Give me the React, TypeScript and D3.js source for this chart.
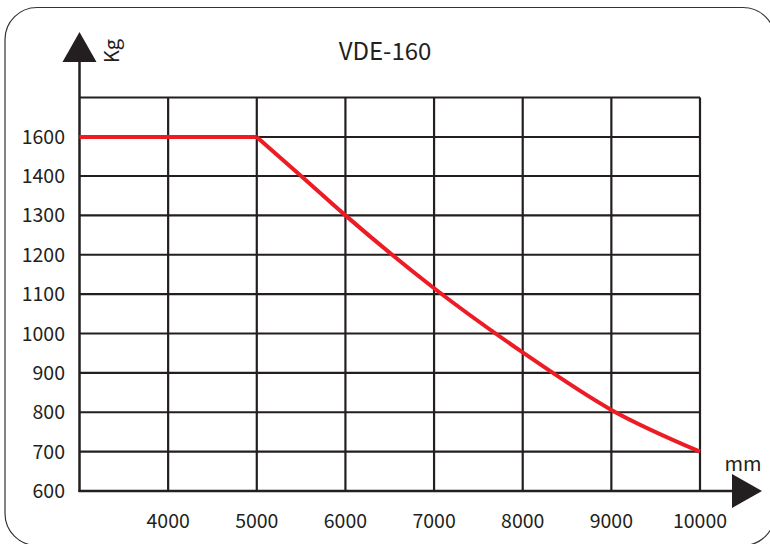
import { useEffect, useRef } from 'react';
import * as d3 from 'd3';

// load curve of VDE-160: mm -> Kg
const title = 'VDE-160';
const xTicks = [4000, 5000, 6000, 7000, 8000, 9000, 10000];
const yTicks = [600, 700, 800, 900, 1000, 1100, 1200, 1300, 1400, 1600];
const flatMm = [3000, 5000];
const flatKg = [1600, 1600];
const curveMm = [5000, 5500, 6000, 7000, 8000, 9000, 10000];
const curveKg = [1600, 1400, 1300, 1115, 952, 806, 700];

const W = 770;
const H = 544;

export default function App() {
  const ref = useRef<SVGSVGElement>(null);

  useEffect(() => {
    if (!ref.current) return;
    const svg = d3.select(ref.current);
    svg.selectAll('*').remove();

    const font = '"Noto Sans CJK SC", "Noto Sans", sans-serif';
    const ink = '#231f20';

    const x = d3.scaleLinear().domain([3000, 10000]).range([79.5, 700]);
    // rows are evenly spaced although 1500 is skipped
    const y = d3.scaleLinear().domain([600, 1400, 1600, 1700]).range([491, 176, 137, 97.5]);

    // rounded frame
    svg.append('rect')
      .attr('x', 5).attr('y', 7.5).attr('width', 770).attr('height', 538)
      .attr('rx', 32).attr('fill', 'none').attr('stroke', '#333').attr('stroke-width', 1.2);

    svg.append('text')
      .attr('x', 385).attr('y', 60).attr('text-anchor', 'middle')
      .attr('font-family', font).attr('font-size', 24).attr('fill', ink).text(title);

    const g = svg.append('g');

    // grid
    g.selectAll('line.h')
      .data([...yTicks.slice(1), 1700])
      .enter().append('line')
      .attr('x1', x(3000)).attr('x2', x(10000))
      .attr('y1', (d) => y(d)).attr('y2', (d) => y(d))
      .attr('stroke', ink).attr('stroke-width', 2.2);
    g.selectAll('line.v')
      .data(xTicks)
      .enter().append('line')
      .attr('x1', (d) => x(d)).attr('x2', (d) => x(d))
      .attr('y1', y(1700)).attr('y2', y(600))
      .attr('stroke', ink).attr('stroke-width', 2.2);

    // axes with arrow heads
    g.append('line').attr('x1', x(3000)).attr('x2', x(3000)).attr('y1', 60).attr('y2', y(600) + 1)
      .attr('stroke', ink).attr('stroke-width', 2.5);
    g.append('line').attr('x1', x(3000) - 1).attr('x2', 735).attr('y1', y(600)).attr('y2', y(600))
      .attr('stroke', ink).attr('stroke-width', 2.5);
    g.append('path').attr('d', `M${x(3000)},32 L${x(3000) - 17},62 L${x(3000) + 17},62 Z`).attr('fill', ink);
    g.append('path').attr('d', `M762,${y(600)} L732,${y(600) - 17} L732,${y(600) + 17} Z`).attr('fill', ink);

    svg.append('text')
      .attr('transform', `translate(119,51) rotate(-90)`)
      .attr('text-anchor', 'middle')
      .attr('font-family', font).attr('font-size', 20).attr('fill', ink).text('Kg');
    svg.append('text')
      .attr('x', 743).attr('y', 471).attr('text-anchor', 'middle')
      .attr('font-family', font).attr('font-size', 20).attr('fill', ink).text('mm');

    // tick labels
    g.selectAll('text.y')
      .data(yTicks)
      .enter().append('text')
      .attr('x', 65).attr('y', (d) => y(d) + 7)
      .attr('text-anchor', 'end')
      .attr('font-family', font).attr('font-size', 19.5).attr('fill', ink)
      .text((d) => d);
    g.selectAll('text.x')
      .data(xTicks)
      .enter().append('text')
      .attr('x', (d) => x(d)).attr('y', 528)
      .attr('text-anchor', 'middle')
      .attr('font-family', font).attr('font-size', 19.5).attr('fill', ink)
      .text((d) => d);

    // load line
    const red = '#ed1c24';
    const flat = d3.line<number>().x((d) => x(d)).y((_, i) => y(flatKg[i]));
    const curve = d3.line<number>().x((d) => x(d)).y((_, i) => y(curveKg[i])).curve(d3.curveMonotoneX);
    g.append('path').attr('d', flat(flatMm)).attr('fill', 'none').attr('stroke', red).attr('stroke-width', 4);
    g.append('path').attr('d', curve(curveMm)).attr('fill', 'none').attr('stroke', red).attr('stroke-width', 4)
      .attr('stroke-linejoin', 'round');
  }, []);

  return <svg ref={ref} width={W} height={H} style={{ position: 'absolute', left: 0, top: 0, background: '#fff' }} />;
}
